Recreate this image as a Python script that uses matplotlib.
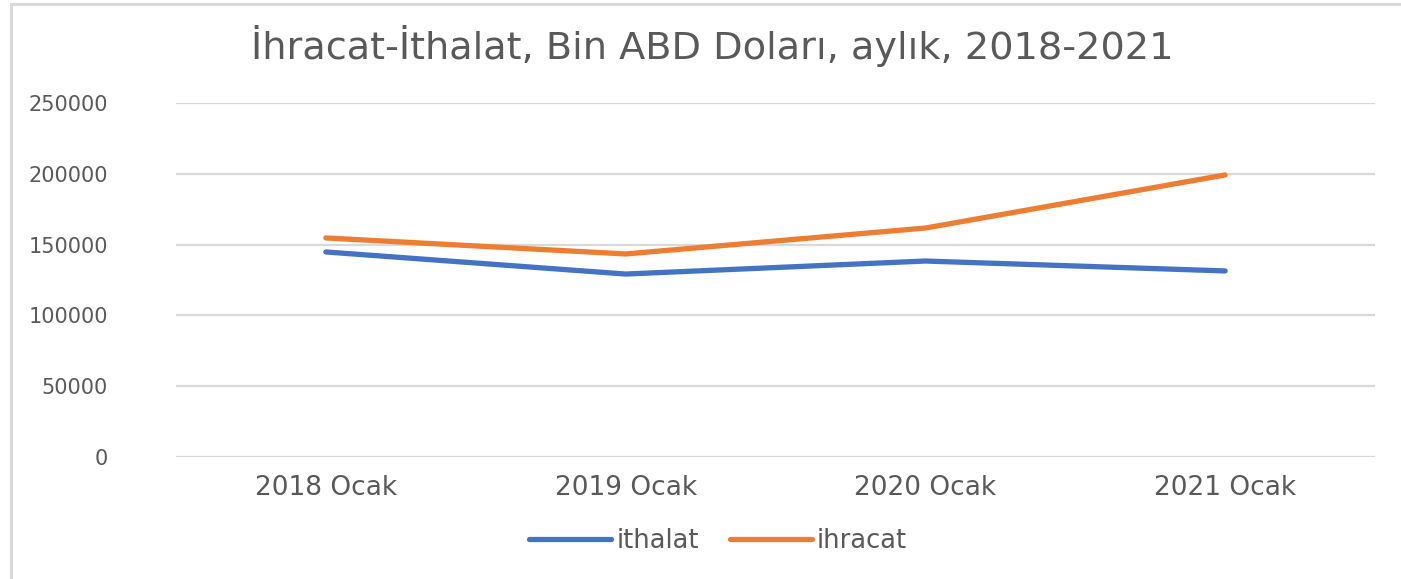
import matplotlib
matplotlib.use("Agg")
import matplotlib.pyplot as plt
from matplotlib.lines import Line2D

categories = ["2018 Ocak", "2019 Ocak", "2020 Ocak", "2021 Ocak"]
ithalat = [144800, 129200, 138400, 131400]
ihracat = [154700, 143400, 161700, 199200]
yticks = [0, 50000, 100000, 150000, 200000, 250000]
title = "İhracat-İthalat, Bin ABD Doları, aylık, 2018-2021"

plt.rcParams['font.family'] = ['DejaVu Sans']
W, H = 1401, 579
fig = plt.figure(figsize=(W/100, H/100), dpi=100)
ax = fig.add_axes([176/W, 1-457/H, (1375-176)/W, (457-103)/H])

x = list(range(len(categories)))
ax.plot(x, ithalat, color="#4472C4", lw=3.8, solid_capstyle="round", solid_joinstyle="round", label="ithalat")
ax.plot(x, ihracat, color="#ED7D31", lw=3.8, solid_capstyle="round", solid_joinstyle="round", label="ihracat")

ax.set_xlim(-0.5, len(categories)-0.5)
ax.set_ylim(0, 250000)
ax.set_yticks(yticks)
ax.set_yticklabels([str(v) for v in yticks])
ax.set_xticks(x)
ax.set_xticklabels(categories)
ax.yaxis.grid(True, color="#D9D9D9", lw=1.6)
ax.set_axisbelow(True)
for s in ax.spines.values():
    s.set_visible(False)
ax.tick_params(axis='both', length=0, labelcolor="#595959")
ax.tick_params(axis='y', pad=49, labelsize=15)
ax.tick_params(axis='x', pad=13, labelsize=19)

fig.text(712/W, 1-59/H, title, ha="center", va="baseline", fontsize=27.5, color="#595959")

leg = fig.legend(loc="center", bbox_to_anchor=(718/W, 1-541/H), ncol=2, frameon=False,
                 fontsize=18.5, handlelength=3.2, handletextpad=0.2, columnspacing=1.2)
for t in leg.get_texts():
    t.set_color("#595959")

# chart border (top and left visible)
fig.add_artist(Line2D([11/W, 1.0], [1-4/H, 1-4/H], transform=fig.transFigure, color="#D9D9D9", lw=2.2))
fig.add_artist(Line2D([11/W, 11/W], [0, 1-4/H], transform=fig.transFigure, color="#D9D9D9", lw=2.2))

fig.savefig("out.png", dpi=100)
